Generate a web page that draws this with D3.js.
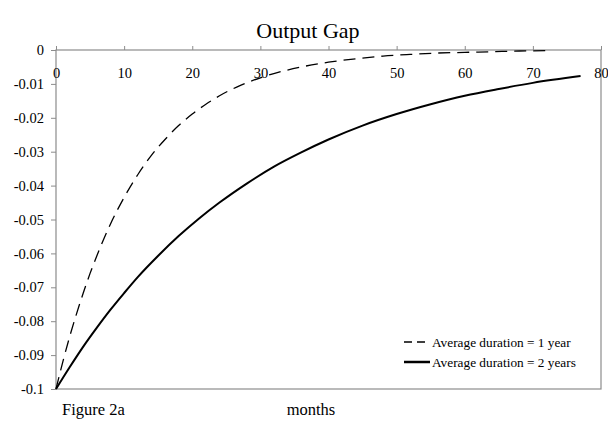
<!DOCTYPE html>
<html>
<head>
<meta charset="utf-8">
<script src="https://cdn.jsdelivr.net/npm/d3@7"></script>
<style>
  html, body { margin: 0; padding: 0; background: #fff; }
  svg { display: block; font-family: "Liberation Serif", "Times New Roman", serif; }
</style>
</head>
<body>
<svg id="chart" width="608" height="424"></svg>
<script>
// values
const monthsOneYear = [0, 1, 2, 3, 4, 5, 6, 8, 10, 12, 14, 16, 18, 20, 22, 24, 27, 30, 33, 36, 40, 44, 48, 52, 56, 60, 64, 68, 72]
const gapOneYear = [-0.1, -0.092, -0.0846, -0.0779, -0.0717, -0.0659, -0.0607, -0.0513, -0.0435, -0.0368, -0.0311,
    -0.0264, -0.0223, -0.0189, -0.016, -0.0135, -0.0105, -0.0082, -0.0064, -0.005, -0.0036, -0.0026, -0.0018,
    -0.0013, -0.0009, -0.0007, -0.0005, -0.0003, -0.0002]

const monthsTwoYears = [0, 2, 4, 6, 8, 10, 12, 15, 18, 21, 24, 28, 32, 36, 40, 45, 50, 55, 60, 65, 70, 77]
const gapTwoYears = [-0.1, -0.0936, -0.0875, -0.0819, -0.0766, -0.0717, -0.067, -0.0607, -0.0549, -0.0497, -0.045,
    -0.0394, -0.0344, -0.0302, -0.0264, -0.0223, -0.0189, -0.016, -0.0135, -0.0115, -0.0097, -0.0077]

const xTicks = [0, 10, 20, 30, 40, 50, 60, 70, 80]
const yTicks = [0, -0.01, -0.02, -0.03, -0.04, -0.05, -0.06, -0.07, -0.08, -0.09, -0.1]
const legendLabels = ['Average duration = 1 year', 'Average duration = 2 years']

const margin = { top: 50, right: 7, bottom: 35, left: 56 }
const width = 608
const height = 424
const plotW = width - margin.left - margin.right
const plotH = height - margin.top - margin.bottom
const axisGrey = '#8c8c8c'

const svg = d3.select('#chart')

const x = d3.scaleLinear().domain([0, 80]).range([0, plotW])
const y = d3.scaleLinear().domain([-0.1, 0]).range([plotH, 0])

// title
svg.append('text')
    .attr('x', 308)
    .attr('y', 38)
    .attr('text-anchor', 'middle')
    .attr('font-size', '22px')
    .text('Output Gap')

const g = svg.append('g')
    .attr('transform', `translate(${margin.left},${margin.top})`)

// plot frame
g.append('rect')
    .attr('x', 0)
    .attr('y', 0)
    .attr('width', plotW)
    .attr('height', plotH)
    .attr('fill', 'none')
    .attr('stroke', axisGrey)
    .attr('stroke-width', 1.2)

// y axis
const yAxis = d3.axisLeft(y)
    .tickValues(yTicks)
    .tickSize(5)
    .tickPadding(7)
    .tickFormat(d => d === 0 ? '0' : String(+d.toFixed(2)))

g.append('g')
    .call(yAxis)
    .call(a => a.select('.domain').remove())
    .call(a => a.selectAll('line').attr('stroke', axisGrey))
    .call(a => a.selectAll('text')
        .attr('font-family', '"Liberation Serif", "Times New Roman", serif')
        .attr('font-size', '14.5px')
        .attr('fill', '#000'))

// x axis sits on the zero line, ticks pointing up, labels below
const xAxis = d3.axisBottom(x)
    .tickValues(xTicks)
    .tickSize(-4)
    .tickPadding(17.5)
    .tickFormat(d3.format('d'))

g.append('g')
    .call(xAxis)
    .call(a => a.select('.domain').remove())
    .call(a => a.selectAll('line').attr('stroke', axisGrey))
    .call(a => a.selectAll('text')
        .attr('font-family', '"Liberation Serif", "Times New Roman", serif')
        .attr('font-size', '14.5px')
        .attr('fill', '#000'))

// lines
const line = d3.line()
    .x(d => x(d[0]))
    .y(d => y(d[1]))
    .curve(d3.curveMonotoneX)

g.append('path')
    .datum(d3.zip(monthsOneYear, gapOneYear))
    .attr('d', line)
    .attr('fill', 'none')
    .attr('stroke', '#000')
    .attr('stroke-width', 1.3)
    .attr('stroke-dasharray', '12,7')

g.append('path')
    .datum(d3.zip(monthsTwoYears, gapTwoYears))
    .attr('d', line)
    .attr('fill', 'none')
    .attr('stroke', '#000')
    .attr('stroke-width', 2)

// legend
const legend = svg.append('g').attr('transform', 'translate(404,342)')
const styles = [{ w: 1.3, dash: '8,5' }, { w: 2.5, dash: null }]

legend.selectAll('g')
    .data(legendLabels)
    .join('g')
    .attr('transform', (d, i) => `translate(0,${i * 20})`)
    .each(function (d, i) {
        const item = d3.select(this)
        item.append('line')
            .attr('x1', 0)
            .attr('x2', 26)
            .attr('stroke', '#000')
            .attr('stroke-width', styles[i].w)
            .attr('stroke-dasharray', styles[i].dash)
        item.append('text')
            .attr('x', 28)
            .attr('y', 4.5)
            .attr('font-size', '13.3px')
            .text(d)
    })

// footer texts
svg.append('text')
    .attr('x', 62)
    .attr('y', 415)
    .attr('font-size', '16.5px')
    .text('Figure 2a')

svg.append('text')
    .attr('x', 311)
    .attr('y', 415)
    .attr('text-anchor', 'middle')
    .attr('font-size', '16.5px')
    .text('months')
</script>
</body>
</html>
